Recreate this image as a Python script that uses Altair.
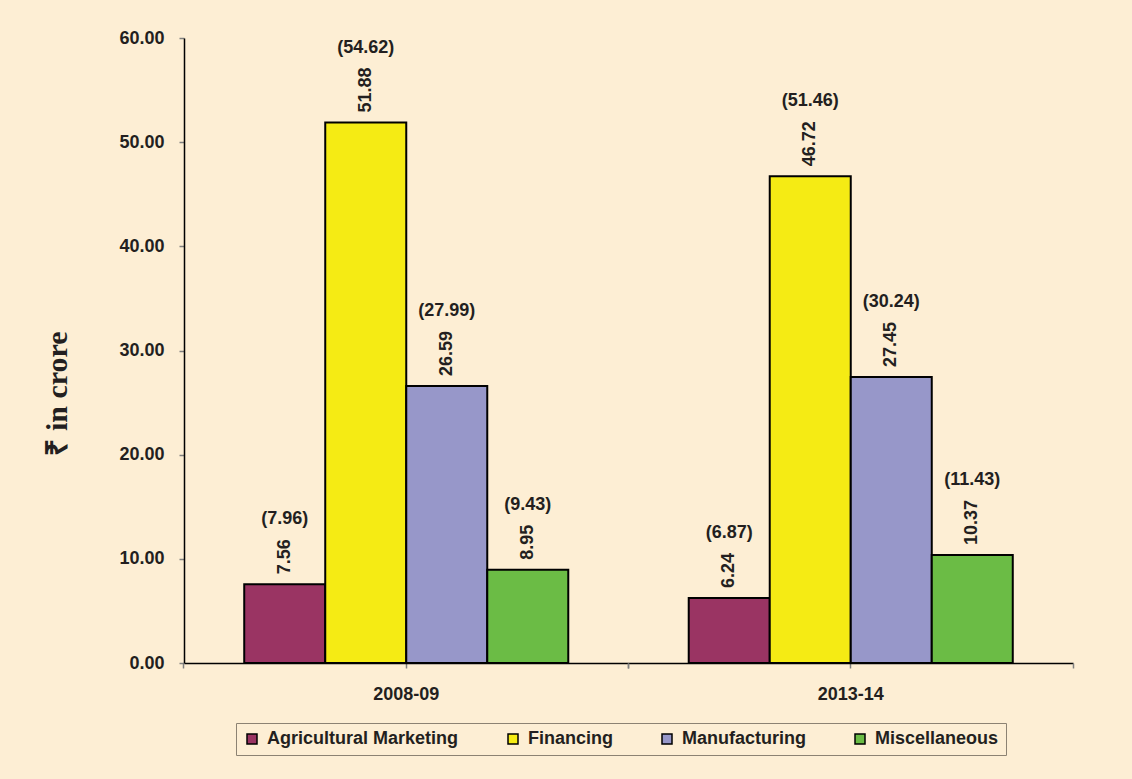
import altair as alt
import pandas as pd

years = ["2008-09", "2013-14"]
categories = ["Agricultural Marketing", "Financing", "Manufacturing", "Miscellaneous"]
values_2008 = [7.56, 51.88, 26.59, 8.95]
values_2013 = [6.24, 46.72, 27.45, 10.37]
paren_2008 = [7.96, 54.62, 27.99, 9.43]
paren_2013 = [6.87, 51.46, 30.24, 11.43]
colors = ["#9A3463", "#F5EB14", "#9797C9", "#6BBC45"]
y_ticks = [0, 10, 20, 30, 40, 50, 60]

rows = []
for yr, vals, pars in [(years[0], values_2008, paren_2008), (years[1], values_2013, paren_2013)]:
    for c, v, p in zip(categories, vals, pars):
        rows.append({"year": yr, "category": c, "value": v,
                     "label": f"{v:.2f}", "paren": f"({p:.2f})"})
df = pd.DataFrame(rows)

FONT = "Liberation Sans, Arial, sans-serif"
TXT = "#231F20"

PI = 0.271
x_scale = alt.Scale(paddingInner=PI, paddingOuter=PI / 2)
EDGE = (PI / 2) / (1 - PI)
xo = alt.XOffset("category:N", sort=categories, scale=alt.Scale(paddingInner=0, paddingOuter=0))
y_enc = alt.Y("value:Q", scale=alt.Scale(domain=[0, 60], nice=False),
              axis=alt.Axis(values=y_ticks, format=".2f", labelFontSize=18, labelFontWeight="bold",
                            labelFont=FONT, labelColor=TXT, labelPadding=15,
                            tickSize=5, tickColor="#808080", tickWidth=1.5,
                            domainColor="#000000", domainWidth=1.5, grid=False,
                            title="₹ in crore", titleFont="Liberation Serif, Times New Roman, serif",
                            titleFontSize=30, titleFontWeight="bold", titleColor=TXT,
                            titleAngle=270, titleX=-127, titleY=355,
                            titleAlign="center", titleBaseline="middle"))


def edge_axis(pos):
    return alt.Axis(title=None, orient="bottom", bandPosition=pos, labels=False,
                    domain=False, tickSize=5, tickColor="#808080", tickWidth=1.5)


base = alt.Chart(df)

bars = base.mark_bar(stroke="#000000", strokeWidth=2).encode(
    x=alt.X("year:N", sort=years, scale=x_scale,
            axis=alt.Axis(title=None, labelFontSize=18, labelFontWeight="bold", labelFont=FONT,
                          labelColor=TXT, labelAngle=0, labelPadding=17, tickSize=5,
                          tickColor="#808080", tickWidth=1.5, domainColor="#000000",
                          domainWidth=1.5, orient="bottom")),
    xOffset=xo,
    y=y_enc,
    color=alt.Color("category:N", sort=categories,
                    scale=alt.Scale(domain=categories, range=colors),
                    legend=alt.Legend(title=None, orient="none", direction="horizontal",
                                      legendX=52, legendY=685, symbolType="square",
                                      symbolSize=100, symbolStrokeColor="#000000",
                                      symbolStrokeWidth=1.5, symbolOpacity=1,
                                      labelFontSize=18, labelFontWeight="bold", labelFont=FONT,
                                      labelColor=TXT, labelOffset=6, columnPadding=45,
                                      labelLimit=400,
                                      strokeColor="#8C8273", fillColor="#FDEED4", padding=7)),
)

rot = base.mark_text(angle=270, align="left", baseline="middle", dx=10, fontSize=18,
                     fontWeight="bold", font=FONT, color=TXT).encode(
    x=alt.X("year:N", sort=years, scale=x_scale, axis=edge_axis(-EDGE)),
    xOffset=xo,
    y=alt.Y("value:Q"),
    text="label:N",
)

paren4 = base.transform_filter("length(datum.label) == 4").mark_text(
    align="center", baseline="middle", dy=-65, fontSize=18, fontWeight="bold",
    font=FONT, color=TXT).encode(
    x=alt.X("year:N", sort=years, scale=x_scale, axis=edge_axis(1 + EDGE)),
    xOffset=xo,
    y=alt.Y("value:Q"),
    text="paren:N",
)

paren5 = base.transform_filter("length(datum.label) == 5").mark_text(
    align="center", baseline="middle", dy=-75, fontSize=18, fontWeight="bold",
    font=FONT, color=TXT).encode(
    x=alt.X("year:N", sort=years, scale=x_scale, axis=None),
    xOffset=xo,
    y=alt.Y("value:Q"),
    text="paren:N",
)

chart = alt.layer(bars, rot, paren4, paren5).resolve_axis(x="independent").resolve_scale(
    x="shared", y="shared").properties(
    width=889, height=625,
    autosize=alt.AutoSizeParams(type="none"),
    padding={"left": 184, "top": 38, "right": 59, "bottom": 116},
    background="#FDEED4",
).configure_view(stroke=None)

chart.save("out.html", embed_options={"renderer": "svg", "actions": False})
